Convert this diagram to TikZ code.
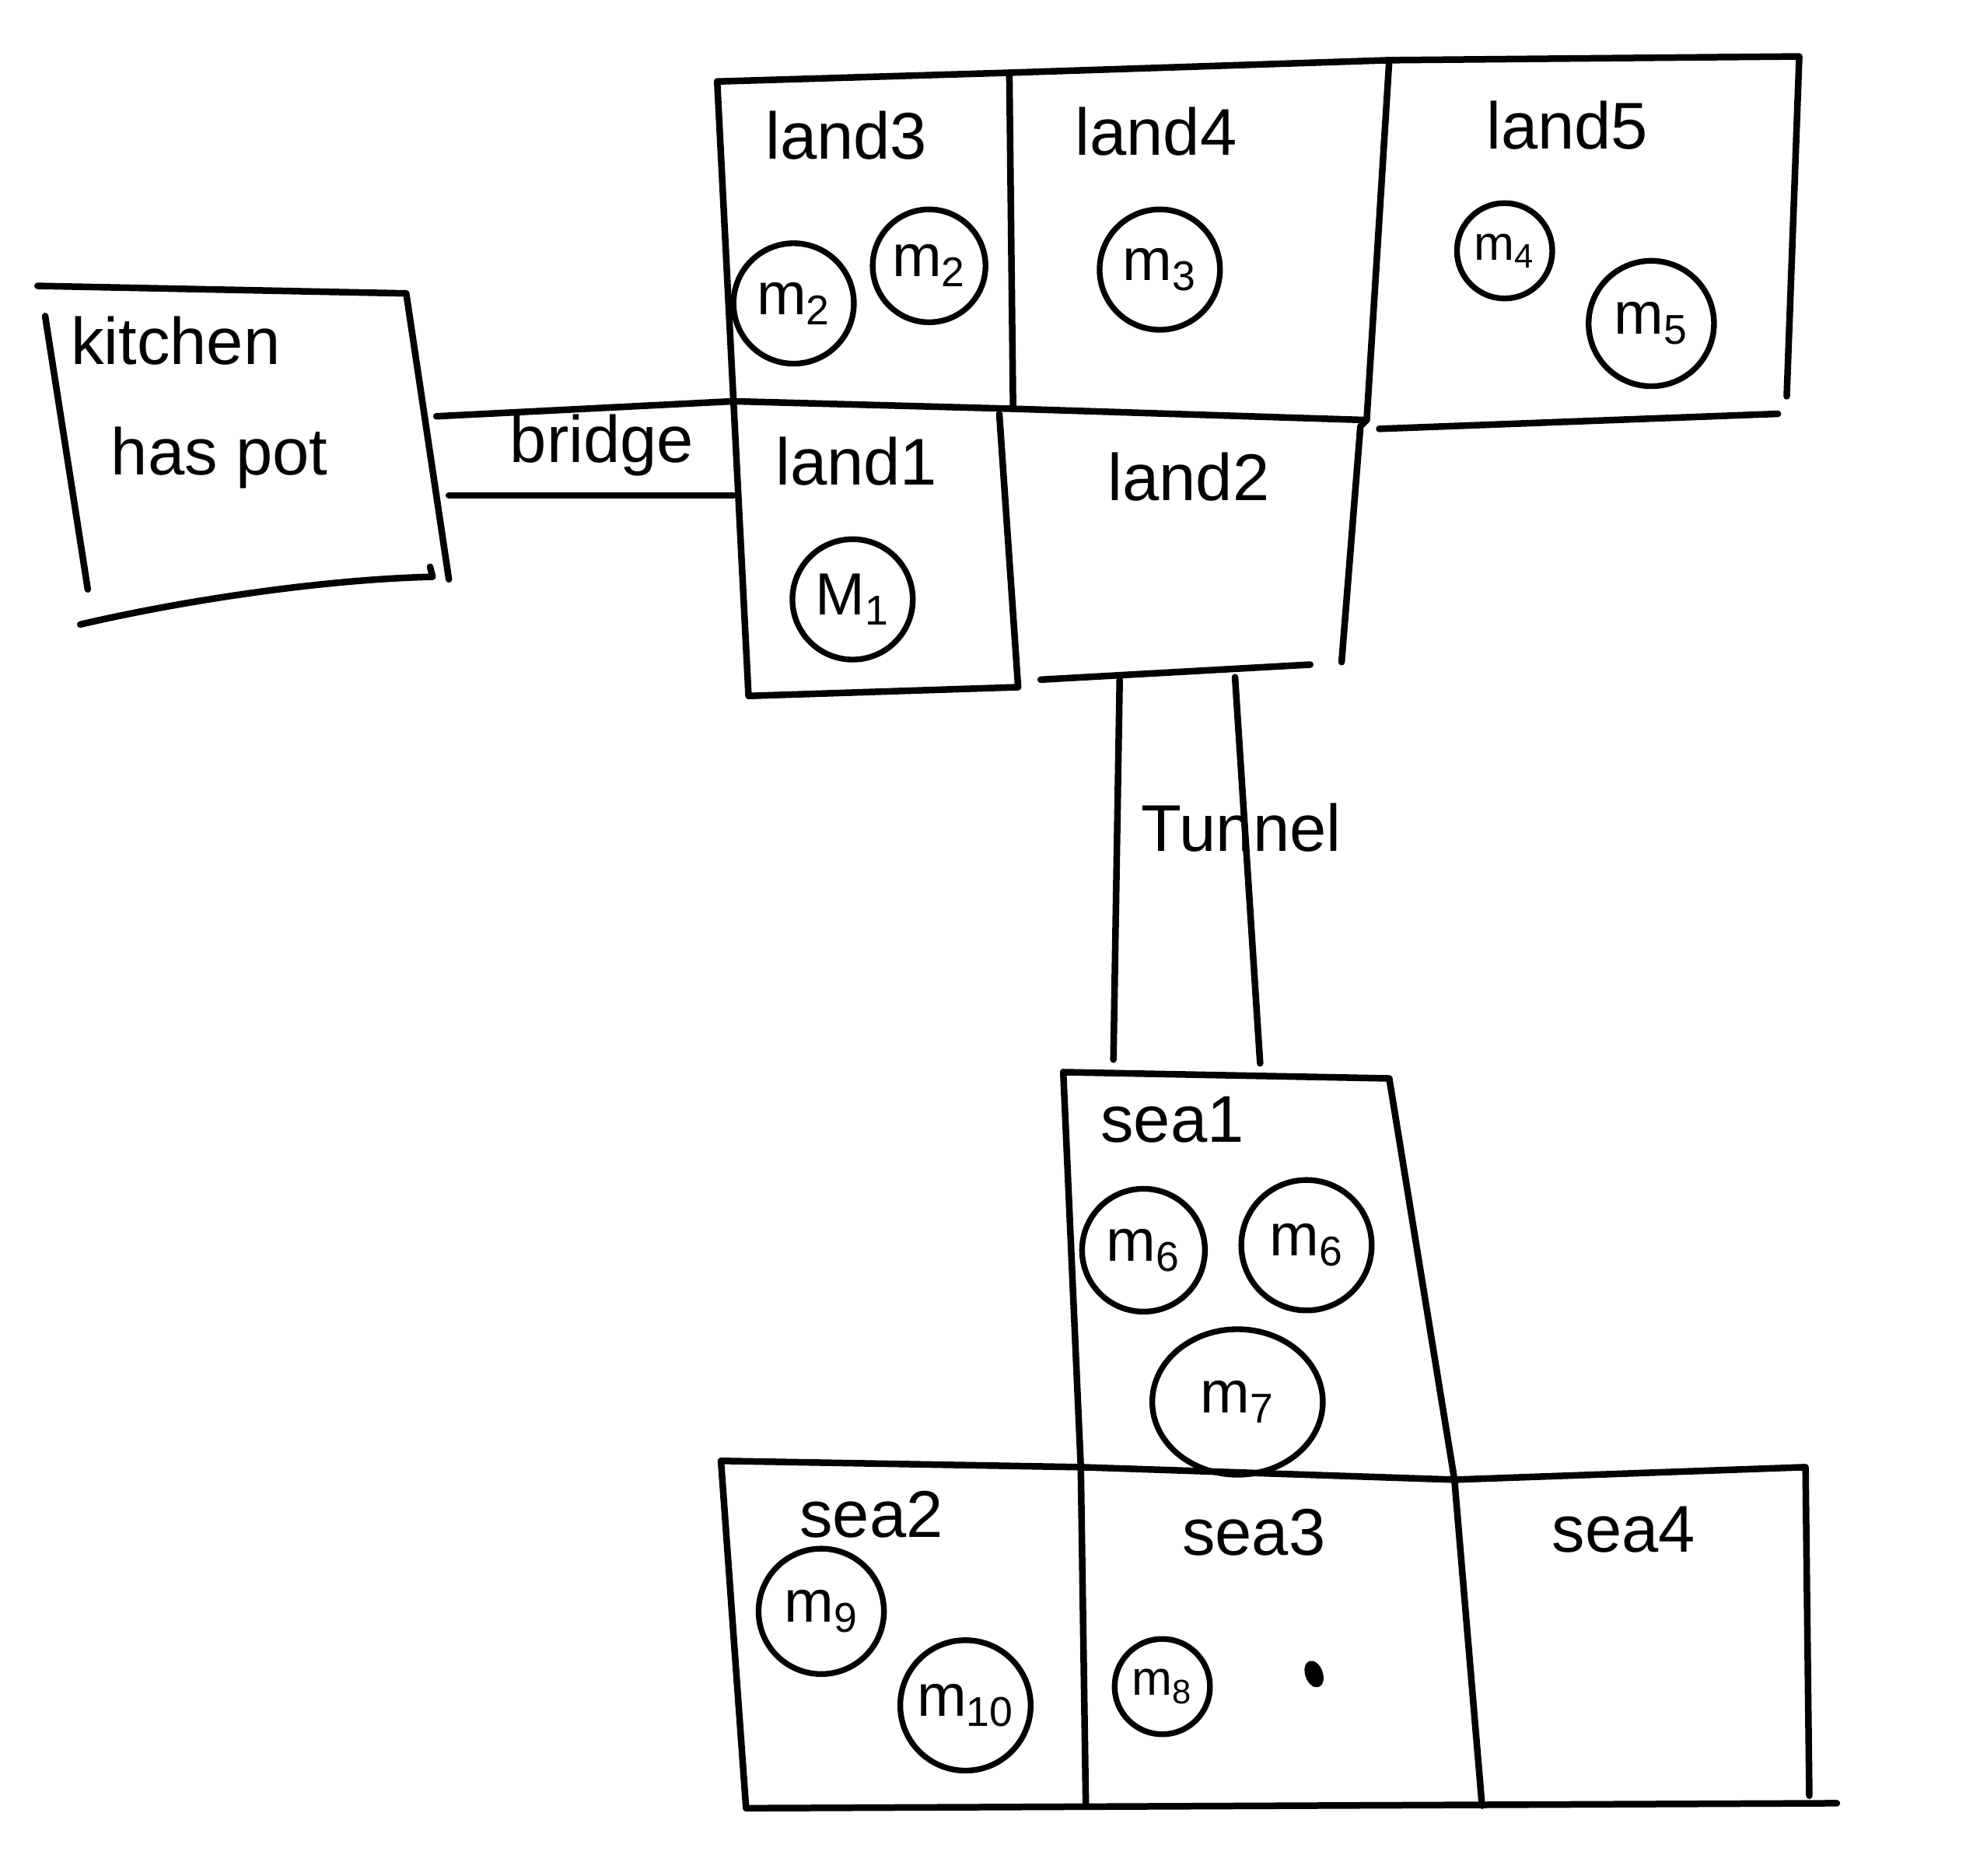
\documentclass[tikz,border=0pt]{standalone}
\usepackage{fontspec}
\setmainfont{Liberation Sans}
\usetikzlibrary{shapes.geometric}
\newcommand\msub[2]{#1\textsubscript{#2}}
\begin{document}
\begin{tikzpicture}[x=0.02cm,y=-0.02cm,
  line width=3pt, line cap=round, line join=round,
  lbl/.style={font=\fontsize{30}{34}\selectfont, inner sep=0pt},
  mon/.style={draw, circle, line width=2.6pt, minimum size=#1*0.02cm,
    inner sep=0pt, font=\fontsize{27}{30}\selectfont},
  smallmon/.style={draw, circle, line width=2.6pt, minimum size=#1*0.02cm,
    inner sep=0pt, font=\fontsize{22}{24}\selectfont}]
\useasboundingbox (0,0) rectangle (1568,1496);

% ---------- kitchen ----------
\coordinate (kTL) at (30,228);
\coordinate (kTR) at (324,234);
\coordinate (kBR) at (358,462);
\coordinate (kLt) at (36,252);
\coordinate (kLb) at (70,470);
\coordinate (kBL) at (64,498);
\coordinate (kBr) at (345,460);
\draw (kTL) -- (kTR) -- (kBR);
\draw (kLt) -- (kLb);
\draw (kBL) .. controls (150,478) and (260,462) .. (kBr) -- (343,452);
\node[lbl] (kitchen) at (140,272) {kitchen};
\node[lbl] (haspot) at (175,365) {has pot};

% ---------- top row: land3, land4, land5 ----------
\coordinate (A) at (572,65);
\coordinate (B) at (805,58);
\coordinate (C) at (1108,48);
\coordinate (D) at (1435,45);
\coordinate (E) at (585,320);
\coordinate (F) at (808,326);
\coordinate (G) at (1090,335);
\coordinate (H) at (1100,342);
\coordinate (I) at (1418,330);
\coordinate (Db) at (1425,316);
\draw (A) -- (B) -- (C) -- (D) -- (Db);
\draw (A) -- (E);
\draw (B) -- (F);
\draw (C) -- (G);
\draw (E) -- (F) -- (G);
\draw (H) -- (I);

% ---------- middle row: land1, land2 ----------
\coordinate (L1bl) at (597,555);
\coordinate (L1br) at (812,548);
\coordinate (L1tr) at (797,330);
\coordinate (L2tr) at (1085,340);
\coordinate (L2br) at (1070,528);
\coordinate (L2bl) at (830,542);
\coordinate (L2bm) at (1045,530);
\draw (E) -- (L1bl) -- (L1br) -- (L1tr);
\draw (G) -- (L2tr) -- (L2br);
\draw (L2bl) -- (L2bm);

% ---------- bridge ----------
\coordinate (b1) at (348,332);
\coordinate (b3) at (358,395);
\coordinate (b4) at (585,395);
\draw (b1) -- (E);
\draw (b3) -- (b4);
\node[lbl] (bridge) at (480,355) {bridge};

% ---------- tunnel ----------
\coordinate (t1) at (893,542);
\coordinate (t2) at (888,845);
\coordinate (t3) at (985,540);
\coordinate (t4) at (1005,848);
\draw (t1) -- (t2);
\draw (t3) -- (t4);
\node[lbl] (tunnel) at (990,660) {Tunnel};

% ---------- sea1 ----------
\coordinate (S1) at (848,855);
\coordinate (S2) at (1108,860);
\coordinate (S3) at (862,1170);
\coordinate (S4) at (1160,1180);
\draw (S1) -- (S2) -- (S4);
\draw (S1) -- (S3);

% ---------- bottom row: sea2, sea3, sea4 ----------
\coordinate (P1) at (575,1165);
\coordinate (P4) at (1440,1170);
\coordinate (Q1) at (595,1442);
\coordinate (Q2) at (866,1440);
\coordinate (Q3) at (1182,1440);
\coordinate (Q4) at (1443,1432);
\coordinate (Q5) at (1465,1438);
\draw (P1) -- (S3) -- (S4) -- (P4) -- (Q4);
\draw (P1) -- (Q1) -- (Q5);
\draw (S3) -- (Q2);
\draw (S4) -- (Q3);

% ---------- room labels ----------
\node[lbl] (land3) at (675,108) {land3};
\node[lbl] (land4) at (922,105) {land4};
\node[lbl] (land5) at (1250,100) {land5};
\node[lbl] (land1) at (683,368) {land1};
\node[lbl] (land2) at (948,380) {land2};
\node[lbl] (sea1) at (935,893) {sea1};
\node[lbl] (sea2) at (695,1208) {sea2};
\node[lbl] (sea3) at (1000,1222) {sea3};
\node[lbl] (sea4) at (1295,1220) {sea4};

% ---------- monsters ----------
\node[mon=96] (m2a) at (633,242) {\msub{m}{2}};
\node[mon=90] (m2b) at (741,212) {\msub{m}{2}};
\node[mon=96] (m3) at (925,215) {\msub{m}{3}};
\node[smallmon=76] (m4) at (1200,200) {\msub{m}{4}};
\node[mon=100] (m5) at (1317,258) {\msub{m}{5}};
\node[mon=96] (m1) at (680,478) {\msub{M}{1}};
\node[mon=98] (m6a) at (912,997) {\msub{m}{6}};
\node[mon=104] (m6b) at (1042,993) {\msub{m}{6}};
\node[draw, ellipse, line width=2.6pt, minimum width=136*0.02cm,
  minimum height=116*0.02cm, inner sep=0pt,
  font=\fontsize{27}{30}\selectfont] (m7) at (987,1118) {\msub{m}{7}};
\node[mon=100] (m9) at (655,1285) {\msub{m}{9}};
\node[mon=104] (m10) at (770,1360) {\msub{m}{10}};
\node[smallmon=76] (m8) at (927,1345) {\msub{m}{8}};

% ---------- ink dot ----------
\fill[rotate around={20:(1048,1335)}] (1048,1335) ellipse [x radius=7, y radius=11];
\end{tikzpicture}
\end{document}
